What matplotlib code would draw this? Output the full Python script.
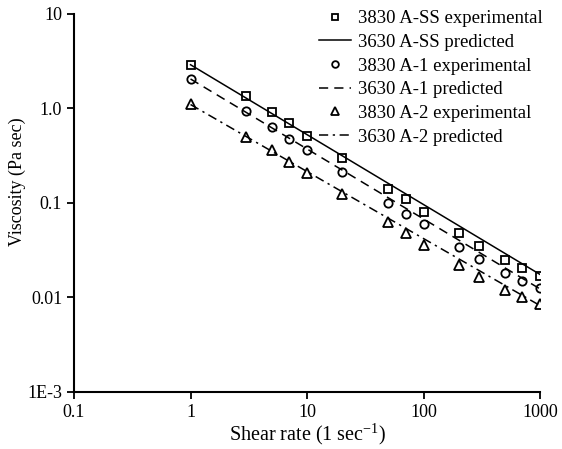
import matplotlib
matplotlib.use("Agg")
from matplotlib import pyplot as plt
import numpy as np

# shear rates (1/sec) used in the measurements
shear = [1, 3, 5, 7, 10, 20, 50, 70, 100, 200, 300, 500, 700, 1000]

# measured viscosity (Pa sec)
visc_ss = [2.91, 1.37, 0.918, 0.708, 0.515, 0.297, 0.141, 0.109, 0.081,
           0.0485, 0.0351, 0.0249, 0.0204, 0.0170]
visc_a1 = [2.05, 0.948, 0.632, 0.472, 0.364, 0.213, 0.0993, 0.0759, 0.0595,
           0.0340, 0.0254, 0.0183, 0.0151, 0.0127]
visc_a2 = [1.11, 0.496, 0.364, 0.270, 0.209, 0.1245, 0.0625, 0.0485, 0.0360,
           0.0221, 0.0164, 0.0120, 0.0102, 0.0085]

# predicted power-law lines, given by their end points
pred_x = [1, 1000]
pred_ss = [2.9, 0.0175]
pred_a1 = [2.05, 0.0123]
pred_a2 = [1.1, 0.0082]

xticks = [0.1, 1, 10, 100, 1000]
xlabels = ["0.1", "1", "10", "100", "1000"]
yticks = [1e-3, 0.01, 0.1, 1, 10]
ylabels = ["1E-3", "0.01", "0.1", "1.0", "10"]

plt.rcParams["font.family"] = ["Liberation Serif", "DejaVu Serif"]
plt.rcParams["mathtext.fontset"] = "custom"
plt.rcParams["mathtext.rm"] = "Liberation Serif"
plt.rcParams["mathtext.it"] = "Liberation Serif:italic"

fig = plt.figure(figsize=(5.62, 4.49), dpi=100)
ax = fig.add_axes([0.1317, 0.127, 0.8293, 0.842])

mk = dict(linestyle="none", markerfacecolor="white", markeredgecolor="black",
          markeredgewidth=1.3)
ax.plot(shear, visc_ss, marker="s", markersize=6, label="3830 A-SS experimental", **mk)
ax.plot(pred_x, pred_ss, "k-", lw=1.1, label="3630 A-SS predicted")
ax.plot(shear, visc_a1, marker="o", markersize=6, label="3830 A-1 experimental", **mk)
ax.plot(pred_x, pred_a1, "k", lw=1.1, linestyle=(0, (6, 4)), label="3630 A-1 predicted")
ax.plot(shear, visc_a2, marker="^", markersize=6.5, label="3830 A-2 experimental", **mk)
ax.plot(pred_x, pred_a2, "k", lw=1.1, linestyle=(0, (6, 3, 1.5, 3)),
        label="3630 A-2 predicted")

ax.set_xscale("log")
ax.set_yscale("log")
ax.set_xlim(0.1, 1000)
ax.set_ylim(1e-3, 10)
ax.set_xticks(xticks)
ax.set_xticklabels(xlabels)
ax.set_yticks(yticks)
ax.set_yticklabels(ylabels)
ax.minorticks_off()
ax.tick_params(direction="out", length=5, width=1.3, labelsize=13, colors="black")

for side in ["top", "right"]:
    ax.spines[side].set_visible(False)
for side in ["left", "bottom"]:
    ax.spines[side].set_linewidth(1.5)

ax.set_xlabel(r"Shear rate (1 sec$^{-1}$)", fontsize=14.5)
ax.xaxis.set_label_coords(0.5, -0.08)
ax.set_ylabel("Viscosity (Pa sec)", fontsize=13)
ax.yaxis.set_label_coords(-0.102, 0.555)

leg = ax.legend(loc="upper right", frameon=False, fontsize=13.5, numpoints=1,
                handlelength=1.7, handletextpad=0.35, labelspacing=0.35,
                borderpad=0.0, borderaxespad=0.0, markerscale=0.8,
                bbox_to_anchor=(1.005, 1.01))

fig.savefig("out.png", dpi=100)
